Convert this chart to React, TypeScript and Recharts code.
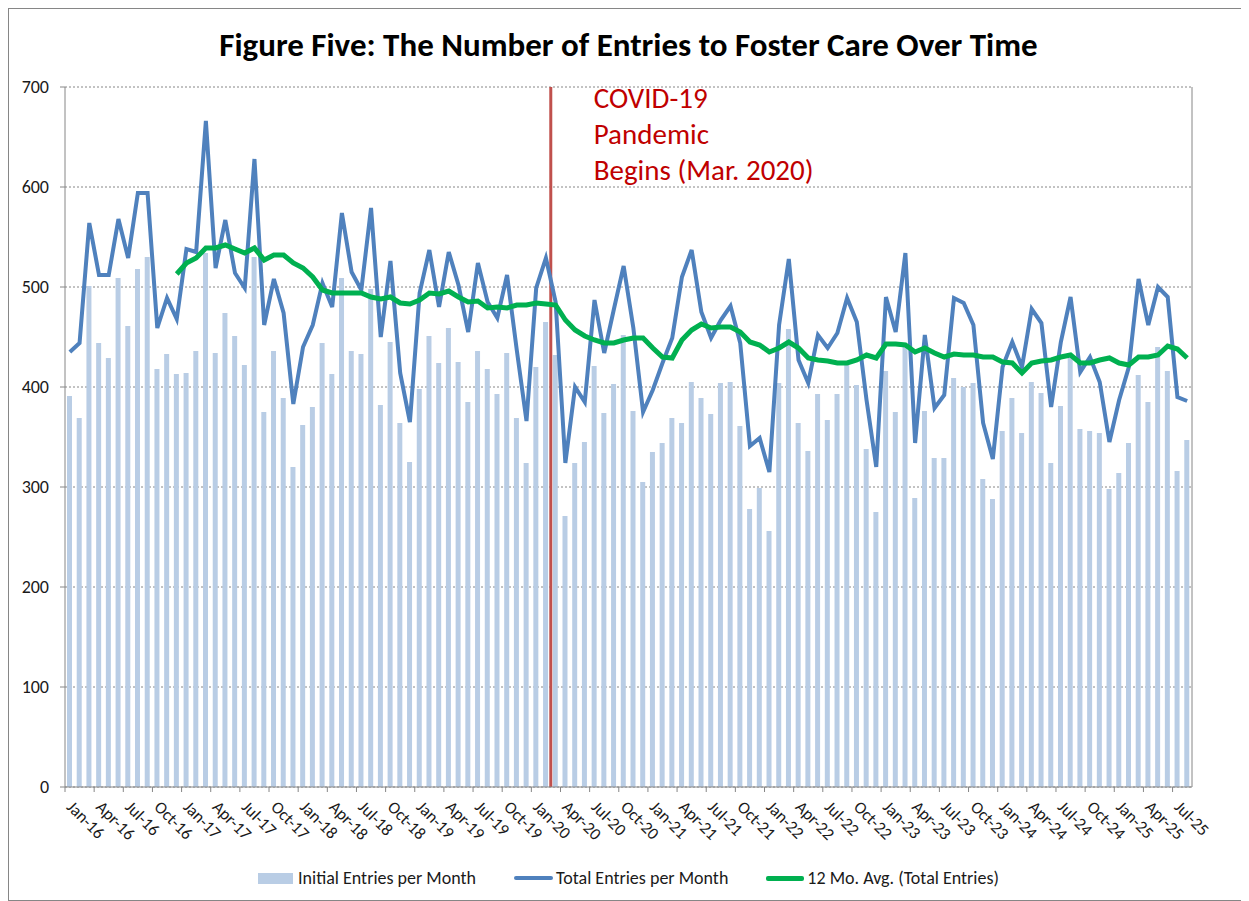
import { ComposedChart, Bar, Line, XAxis, YAxis, CartesianGrid, ReferenceLine, Legend } from 'recharts'

// ─── data (Jan-16 .. Aug-25) ─────────────────────────────────────────────

const MONTH_NAMES = ['Jan', 'Feb', 'Mar', 'Apr', 'May', 'Jun', 'Jul', 'Aug', 'Sep', 'Oct', 'Nov', 'Dec']
const YEARS = ['16', '17', '18', '19', '20', '21', '22', '23', '24', '25']
const LAST_MONTH_2025 = 8

const months: string[] = YEARS.flatMap(y =>
  MONTH_NAMES.slice(0, y === '25' ? LAST_MONTH_2025 : 12).map(m => `${m}-${y}`)
)

const initialEntries = [
  391, 369, 501, 444, 429, 509, 461, 518, 530, 418, 433, 413,
  414, 436, 534, 434, 474, 451, 422, 530, 375, 436, 389, 320,
  362, 380, 444, 413, 509, 436, 433, 498, 382, 445, 364, 325,
  398, 451, 424, 459, 425, 385, 436, 418, 393, 434, 369, 324,
  420, 465, 432, 271, 324, 345, 421, 374, 403, 452, 376, 305,
  335, 344, 369, 364, 405, 389, 373, 404, 405, 361, 278, 299,
  256, 404, 458, 364, 336, 393, 367, 393, 422, 402, 338, 275,
  416, 375, 440, 289, 376, 329, 329, 409, 400, 404, 308, 288,
  356, 389, 354, 405, 394, 324, 381, 429, 358, 356, 354, 298,
  314, 344, 412, 385, 440, 416, 316, 347,
]

const totalEntries = [
  435, 444, 564, 512, 512, 568, 529, 594, 594, 459, 489, 468,
  538, 535, 666, 519, 567, 514, 499, 628, 462, 508, 474, 383,
  440, 462, 504, 480, 574, 515, 497, 579, 450, 526, 414, 365,
  494, 537, 480, 535, 502, 455, 524, 485, 469, 512, 437, 366,
  499, 529, 485, 324, 400, 385, 487, 434, 478, 521, 459, 375,
  397, 424, 449, 510, 537, 475, 449, 467, 481, 444, 341, 349,
  315, 462, 528, 427, 404, 452, 439, 454, 489, 465, 387, 320,
  490, 455, 534, 344, 452, 379, 392, 489, 484, 462, 364, 328,
  420, 445, 420, 478, 464, 380, 445, 490, 415, 430, 405, 345,
  387, 420, 508, 462, 500, 490, 390, 386,
]

const avg12: (number | null)[] = [
  null, null, null, null, null, null, null, null, null, null, null, 513,
  524, 529, 539, 539, 542, 538, 534, 539, 527, 532, 532, 524,
  519, 510, 497, 494, 494, 494, 494, 490, 488, 490, 484, 483,
  487, 494, 493, 496, 490, 485, 486, 479, 480, 479, 482, 482,
  484, 483, 482, 467, 457, 451, 447, 444, 444, 447, 449, 449,
  439, 430, 429, 447, 457, 463, 459, 460, 460, 455, 445, 442,
  435, 439, 445, 439, 429, 427, 426, 424, 424, 427, 432, 429,
  443, 443, 442, 435, 439, 434, 430, 433, 432, 432, 430, 430,
  425, 424, 414, 424, 426, 427, 430, 432, 424, 424, 427, 429,
  424, 422, 430, 430, 432, 441, 438, 429,
]

const Y_TICKS = [0, 100, 200, 300, 400, 500, 600, 700]
const PANDEMIC_MONTH = 'Mar-20'

const chartData = months.map((month, i) => ({
  month,
  initial: initialEntries[i],
  total: totalEntries[i],
  avg: avg12[i],
}))

// ─── styling ─────────────────────────────────────────────────────────────

const FONT = 'Carlito, Lato, "Open Sans", sans-serif'
const AXIS_GREY = '#868686'
const BAR_BLUE = '#b9cde5'
const LINE_BLUE = '#4f81bd'
const GREEN = '#00b050'
const RED = '#c0504d'

// ─── custom pieces ───────────────────────────────────────────────────────

// Tick marks sit on category boundaries (Excel style); labels hang below at 45°.
function MonthTick({ x, y, payload }: any) {
  const half = payload?.offset ?? 4.86
  const tx = x - 4
  const ty = y + 21
  return (
    <g>
      <line x1={x - half} x2={x - half} y1={y} y2={y + 5} stroke={AXIS_GREY} />
      <text
        x={tx}
        y={ty}
        transform={`rotate(45 ${tx} ${ty})`}
        textAnchor="start"
        fill="#1a1a1a"
        style={{ fontFamily: FONT, fontSize: 17 }}
      >
        {payload.value}
      </text>
    </g>
  )
}

function PandemicLabel({ viewBox }: any) {
  const x = viewBox.x + 43
  const y = viewBox.y
  return (
    <text fill="#c00000" style={{ fontFamily: FONT, fontSize: 29 }}>
      <tspan x={x} y={y + 21}>COVID-19</tspan>
      <tspan x={x} y={y + 57}>Pandemic</tspan>
      <tspan x={x} y={y + 93}>Begins (Mar. 2020)</tspan>
    </text>
  )
}

function ChartLegend() {
  const item = { display: 'flex', alignItems: 'center', marginRight: 38 }
  const text = { fontFamily: FONT, fontSize: 18, color: '#1a1a1a' }
  return (
    <div style={{ display: 'flex', justifyContent: 'center', height: 20, alignItems: 'center' }}>
      <div style={item}>
        <span style={{ width: 35, height: 11, background: BAR_BLUE, marginRight: 5 }} />
        <span style={text}>Initial Entries per Month</span>
      </div>
      <div style={item}>
        <span style={{ width: 39, height: 4, borderRadius: 2, background: LINE_BLUE, marginRight: 3 }} />
        <span style={text}>Total Entries per Month</span>
      </div>
      <div style={{ ...item, marginRight: 0 }}>
        <span style={{ width: 38, height: 5, borderRadius: 2, background: GREEN, marginRight: 3 }} />
        <span style={text}>12 Mo. Avg. (Total Entries)</span>
      </div>
    </div>
  )
}

// ─── component ───────────────────────────────────────────────────────────

export default function App() {
  const yTick = { fill: '#1a1a1a', fontSize: 18, fontFamily: FONT }
  return (
    <div style={{ position: 'relative', width: 1239, height: 891, border: `1px solid ${AXIS_GREY}`, background: '#fff' }}>
      <div
        style={{
          position: 'absolute', top: 16, left: 0, width: '100%', textAlign: 'center',
          fontFamily: FONT, fontWeight: 700, fontSize: 33, lineHeight: '40px', color: '#000',
        }}
      >
        Figure Five: The Number of Entries to Foster Care Over Time
      </div>
      <ComposedChart
        width={1239}
        height={891}
        data={chartData}
        margin={{ top: 78, right: 5, bottom: 12, left: 5 }}
        barSize={5}
      >
        <CartesianGrid yAxisId="left" vertical={false} stroke={AXIS_GREY} strokeDasharray="2 2" />
        <XAxis
          dataKey="month"
          interval={2}
          tickSize={0}
          tickMargin={0}
          tickLine={false}
          axisLine={{ stroke: AXIS_GREY }}
          tick={<MonthTick />}
          height={81}
        />
        <YAxis
          yAxisId="left"
          domain={[0, 700]}
          ticks={Y_TICKS}
          width={51}
          tickSize={5}
          tickMargin={11}
          axisLine={{ stroke: AXIS_GREY }}
          tickLine={{ stroke: AXIS_GREY }}
          tick={yTick}
        />
        <YAxis
          yAxisId="right"
          orientation="right"
          domain={[0, 700]}
          ticks={Y_TICKS}
          width={51}
          tickSize={5}
          tickMargin={11}
          axisLine={{ stroke: AXIS_GREY }}
          tickLine={{ stroke: AXIS_GREY }}
          tick={yTick}
        />
        <Legend verticalAlign="bottom" content={<ChartLegend />} />
        <Bar yAxisId="left" dataKey="initial" name="Initial Entries per Month" fill={BAR_BLUE} isAnimationActive={false} />
        <ReferenceLine
          yAxisId="left"
          x={PANDEMIC_MONTH}
          position="start"
          stroke={RED}
          strokeWidth={3}
          label={<PandemicLabel />}
        />
        <Line
          yAxisId="left"
          type="linear"
          dataKey="total"
          name="Total Entries per Month"
          stroke={LINE_BLUE}
          strokeWidth={4}
          dot={false}
          isAnimationActive={false}
        />
        <Line
          yAxisId="left"
          type="linear"
          dataKey="avg"
          name="12 Mo. Avg. (Total Entries)"
          stroke={GREEN}
          strokeWidth={5}
          dot={false}
          isAnimationActive={false}
        />
      </ComposedChart>
    </div>
  )
}
